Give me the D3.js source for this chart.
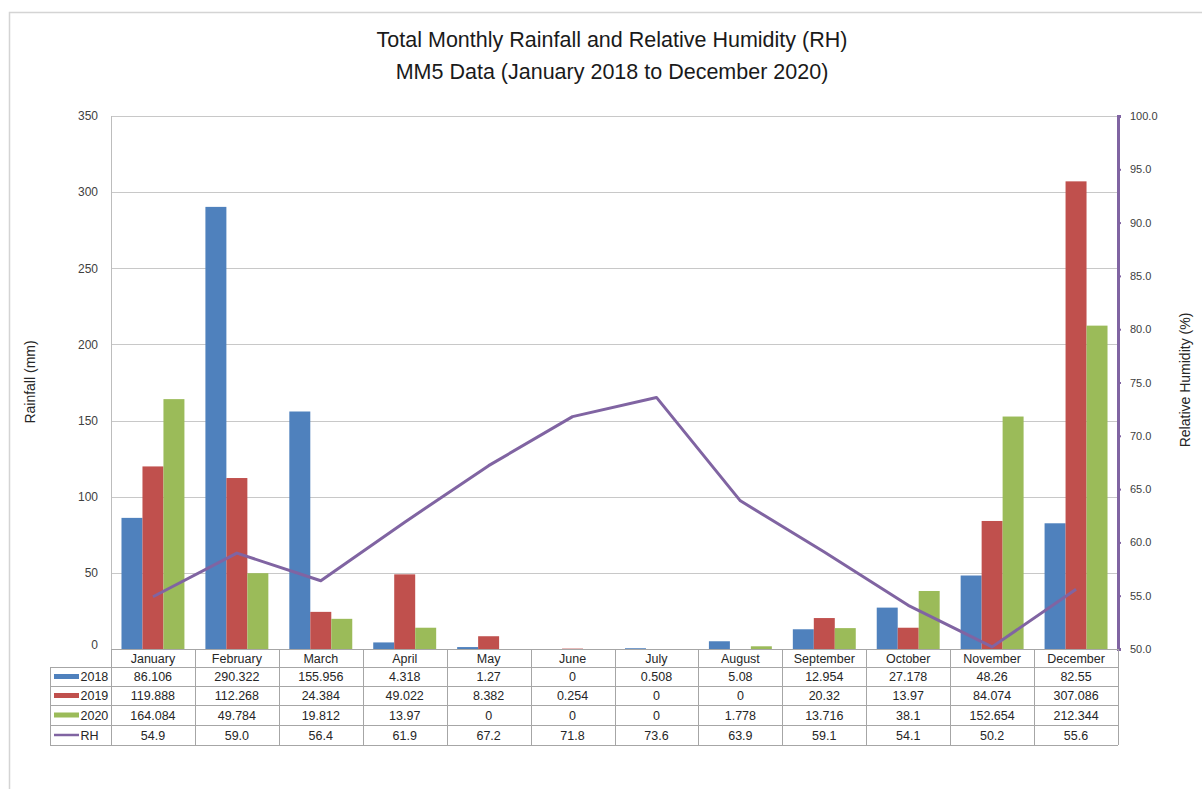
<!DOCTYPE html>
<html>
<head>
<meta charset="utf-8">
<script src="https://cdn.jsdelivr.net/npm/d3@7"></script>
<style>
  html, body { margin: 0; padding: 0; background: #fff; }
  svg { display: block; font-family: "Liberation Sans", Arial, sans-serif; }
</style>
</head>
<body>
<svg id="chart" width="1202" height="789"></svg>
<script>
// Monthly totals and relative humidity, 2018–2020
const months = ["January","February","March","April","May","June","July","August","September","October","November","December"];
const seriesNames = ["2018","2019","2020"];
const rain2018 = [86.106, 290.322, 155.956, 4.318, 1.27, 0, 0.508, 5.08, 12.954, 27.178, 48.26, 82.55];
const rain2019 = [119.888, 112.268, 24.384, 49.022, 8.382, 0.254, 0, 0, 20.32, 13.97, 84.074, 307.086];
const rain2020 = [164.084, 49.784, 19.812, 13.97, 0, 0, 0, 1.778, 13.716, 38.1, 152.654, 212.344];
const rh = [54.9, 59.0, 56.4, 61.9, 67.2, 71.8, 73.6, 63.9, 59.1, 54.1, 50.2, 55.6];
const rainTicks = [0, 50, 100, 150, 200, 250, 300, 350];
const rhTicks = [50, 55, 60, 65, 70, 75, 80, 85, 90, 95, 100];
const rowLabels = ["2018","2019","2020","RH"];

const colors = { "2018": "#4F81BD", "2019": "#C0504D", "2020": "#9BBB59", "RH": "#8064A2" };
const rainBySeries = { "2018": rain2018, "2019": rain2019, "2020": rain2020 };

const svg = d3.select("#chart");

// layout
const plot = { left: 111, right: 1118, top: 116, bottom: 649 };
const tableLeft = 50;
const rowH = [18, 19, 19, 20, 20];   // header row, 2018, 2019, 2020, RH

// outer frame
svg.append("rect").attr("x", 9.5).attr("y", 12.5).attr("width", 1210).attr("height", 800)
  .attr("fill", "none").attr("stroke", "#d4d4d4").attr("stroke-width", 1.5);

// scales
const x = d3.scaleBand().domain(months).range([plot.left, plot.right]).paddingInner(0).paddingOuter(0);
const bw = x.bandwidth();
const x1 = d3.scaleBand().domain(seriesNames).range([bw * 0.125, bw * 0.875]).padding(0);
const y = d3.scaleLinear().domain([0, 350]).range([plot.bottom, plot.top]);
const y2 = d3.scaleLinear().domain([50, 100]).range([plot.bottom, plot.top]);

// horizontal gridlines
svg.append("g").selectAll("line").data(rainTicks.filter(d => d > 0)).join("line")
  .attr("x1", plot.left).attr("x2", plot.right)
  .attr("y1", d => Math.round(y(d)) + 0.5).attr("y2", d => Math.round(y(d)) + 0.5)
  .attr("stroke", "#c8c8c8").attr("stroke-width", 1);

// left plot border
svg.append("line").attr("x1", plot.left + 0.5).attr("x2", plot.left + 0.5)
  .attr("y1", plot.top).attr("y2", plot.bottom).attr("stroke", "#bdbdbd");

// left axis labels
const yAxis = d3.axisLeft(y).tickValues(rainTicks).tickSize(0).tickPadding(13);
const gy = svg.append("g").attr("transform", `translate(${plot.left},0)`).call(yAxis);
gy.select(".domain").remove();
gy.selectAll("text").attr("font-size", 12).attr("fill", "#404040")
  .attr("font-family", "'Liberation Sans', Arial, sans-serif");
gy.selectAll(".tick").filter(d => d === 0).select("text").attr("dy", "-0.05em");

// bars
const groups = svg.append("g").selectAll("g").data(months).join("g")
  .attr("transform", d => `translate(${x(d)},0)`);
groups.selectAll("rect").data((m, i) => seriesNames.map(s => ({ s, v: rainBySeries[s][i] }))).join("rect")
  .attr("x", d => x1(d.s))
  .attr("width", x1.bandwidth())
  .attr("y", d => y(d.v))
  .attr("height", d => y(0) - y(d.v))
  .attr("fill", d => colors[d.s]);

// right axis (relative humidity)
const y2Axis = d3.axisRight(y2).tickValues(rhTicks).tickSize(3).tickPadding(9).tickFormat(d3.format(".1f"));
const gy2 = svg.append("g").attr("transform", `translate(${plot.right},0)`).call(y2Axis);
gy2.select(".domain").attr("stroke", colors.RH).attr("stroke-width", 3);
gy2.selectAll(".tick line").attr("stroke", colors.RH).attr("stroke-width", 2);
gy2.selectAll("text").attr("font-size", 11).attr("fill", "#404040")
  .attr("font-family", "'Liberation Sans', Arial, sans-serif");

// RH line
const line = d3.line().x((d, i) => x(months[i]) + bw / 2).y(d => y2(d));
svg.append("path").datum(rh).attr("d", line)
  .attr("fill", "none").attr("stroke", colors.RH).attr("stroke-width", 3).attr("stroke-linejoin", "round");

// data table
const table = svg.append("g").attr("font-size", 12.5).attr("fill", "#262626");
const rowTops = [plot.bottom];
rowH.forEach((h, i) => rowTops.push(rowTops[i] + h));
const tableBottom = rowTops[rowTops.length - 1];
const gridStroke = "#a6a6a6";

// horizontal rules
rowTops.forEach((ty, i) => {
  table.append("line")
    .attr("x1", i === 0 ? plot.left : tableLeft).attr("x2", plot.right)
    .attr("y1", ty + 0.5).attr("y2", ty + 0.5)
    .attr("stroke", gridStroke);
});
// vertical rules between months
const bounds = months.map(m => x(m)).concat([plot.right]);
table.selectAll("line.v").data(bounds).join("line").attr("class", "v")
  .attr("x1", d => Math.round(d) + 0.5).attr("x2", d => Math.round(d) + 0.5)
  .attr("y1", plot.bottom).attr("y2", tableBottom)
  .attr("stroke", gridStroke);
table.append("line").attr("x1", tableLeft + 0.5).attr("x2", tableLeft + 0.5)
  .attr("y1", rowTops[1]).attr("y2", tableBottom).attr("stroke", gridStroke);

// month names
table.selectAll("text.m").data(months).join("text").attr("class", "m")
  .attr("x", d => x(d) + bw / 2).attr("y", rowTops[0] + rowH[0] / 2)
  .attr("dy", "0.36em").attr("text-anchor", "middle").text(d => d);

// value rows
const fmt = v => String(v);
const rowsData = [
  rain2018.map(fmt), rain2019.map(fmt), rain2020.map(fmt), rh.map(d3.format(".1f"))
];
rowsData.forEach((vals, r) => {
  const cy = rowTops[r + 1] + rowH[r + 1] / 2;
  table.selectAll(null).data(vals).join("text")
    .attr("x", (d, i) => x(months[i]) + bw / 2).attr("y", cy)
    .attr("dy", "0.36em").attr("text-anchor", "middle").text(d => d);
  // legend key
  const name = rowLabels[r];
  if (name === "RH") {
    table.append("line").attr("x1", 54).attr("x2", 79).attr("y1", cy).attr("y2", cy)
      .attr("stroke", colors.RH).attr("stroke-width", 2.5);
  } else {
    table.append("rect").attr("x", 54).attr("y", cy - 2.5).attr("width", 25).attr("height", 5)
      .attr("fill", colors[name]);
  }
  table.append("text").attr("x", 80.5).attr("y", cy).attr("dy", "0.36em")
    .attr("text-anchor", "start").text(name);
});

// titles
const title = svg.append("g").attr("font-size", 21.5).attr("fill", "#1a1a1a").attr("text-anchor", "middle");
title.append("text").attr("x", 612).attr("y", 47).text("Total Monthly Rainfall and Relative Humidity (RH)");
title.append("text").attr("x", 612).attr("y", 79).text("MM5 Data (January 2018 to December 2020)");

svg.append("text").attr("transform", "translate(35,382) rotate(-90)")
  .attr("text-anchor", "middle").attr("font-size", 14).attr("fill", "#262626").text("Rainfall (mm)");
svg.append("text").attr("transform", "translate(1190,380) rotate(-90)")
  .attr("text-anchor", "middle").attr("font-size", 14).attr("fill", "#262626").text("Relative Humidity (%)");
</script>
</body>
</html>
